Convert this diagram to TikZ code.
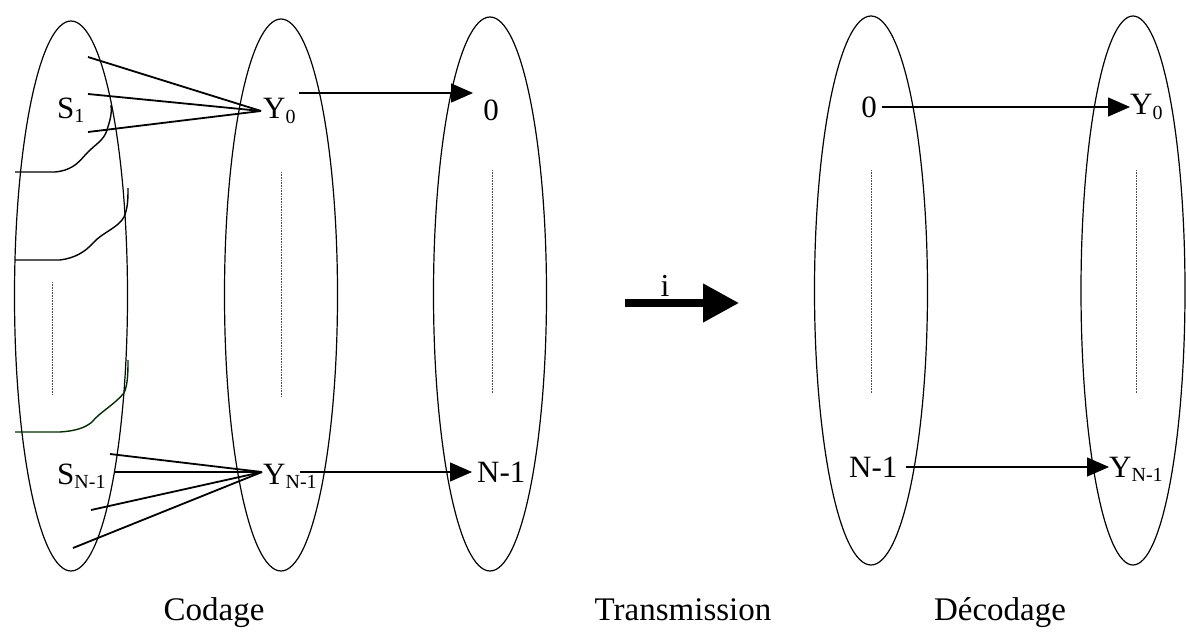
\documentclass[tikz,border=0pt]{standalone}
\usepackage{fontspec}
\setmainfont{Liberation Serif}
\usetikzlibrary{arrows.meta,calc}
\newcommand\lowsub[1]{\raisebox{-0.3ex}{\fontsize{20}{20}\selectfont #1}}
\begin{document}
\begin{tikzpicture}[x=1pt,y=-1pt,
  oval/.style={line width=1.2pt},
  fan/.style={line width=1.8pt},
  wavy/.style={line width=1.4pt},
  dotl/.style={line width=0.8pt,dash pattern=on 0.8pt off 0.8pt,black!70},
  arr/.style={line width=1.4pt,-{Triangle[length=22pt,width=19pt]}},
  lbl/.style={inner sep=0pt,font=\fontsize{31}{31}\selectfont},
  captxt/.style={inner sep=0pt,anchor=base,font=\fontsize{33}{33}\selectfont}]
\useasboundingbox (0,0) rectangle (1186,637);
% ellipses
\draw[oval] (71,296) ellipse [x radius=56.5,y radius=275];
\draw[oval] (281,295) ellipse [x radius=56.5,y radius=276];
\draw[oval] (490,294) ellipse [x radius=56.5,y radius=277];
\draw[oval] (871,290.5) ellipse [x radius=56.5,y radius=274.5];
\draw[oval] (1133,290.5) ellipse [x radius=52,y radius=274.5];
% dotted lines
\draw[dotl] (52,282) -- (52,395);
\draw[dotl] (281,172) -- (281,397);
\draw[dotl] (492,170) -- (492,393);
\draw[dotl] (871,170) -- (871,393);
\draw[dotl] (1136,170) -- (1136,393);
% labels
\node[lbl,anchor=west] (S1) at (57,110) {S\lowsub{1}};
\node[lbl,anchor=west] (Y0) at (263,111) {Y\lowsub{0}};
\node[lbl] (O1) at (491,110) {0};
\node[lbl,anchor=west] (SN) at (57,476) {S\lowsub{N-1}};
\node[lbl,anchor=west] (YN) at (263,476) {Y\lowsub{N-1}};
\node[lbl,anchor=west] (N1) at (477,472) {N-1};
\node[lbl] (O2) at (869,107) {0};
\node[lbl,anchor=west] (Y0r) at (1130,107) {Y\lowsub{0}};
\node[lbl,anchor=west] (N2) at (849,467) {N-1};
\node[lbl,anchor=west] (YNr) at (1109,469) {Y\lowsub{N-1}};
% fan coordinates
\coordinate (f1) at (88,57);
\coordinate (f2) at (88,94);
\coordinate (f3) at (88,132);
\coordinate (g1) at (110,454);
\coordinate (g2) at (115,472);
\coordinate (g3) at (91,510);
\coordinate (g4) at (73,548);
\coordinate (ap0) at ($(Y0.west)+(-2,0)$);
\coordinate (apN) at ($(YN.west)+(-1,-4)$);
\foreach \c in {f1,f2,f3} \draw[fan] (\c) -- (ap0);
\foreach \c in {g1,g2,g3,g4} \draw[fan] (\c) -- (apN);
% curves
\draw[wavy] (15,172) -- (55,172) .. controls (75,170) and (80,160) .. (88,152)
  .. controls (96,144) and (104,140) .. (107,130) .. controls (110,120) and (112,115) .. (111,105);
\draw[wavy] (15,260) -- (60,260) .. controls (75,258) and (85,252) .. (93,243)
  .. controls (103,232) and (118,228) .. (124,217) .. controls (128,208) and (128,198) .. (128,188);
\draw[wavy,black!70!green!60!black] (15,432) -- (60,432) .. controls (75,431) and (85,428) .. (92,422)
  .. controls (100,412) and (114,405) .. (124,393) .. controls (128,385) and (128,370) .. (128,360);
% horizontal arrows
\coordinate (a1) at ($(Y0.east)+(3,-18)$);
\coordinate (e1) at ($(a1 -| O1.west)+(-10,0)$);
\draw[arr] (a1) -- (e1);
\coordinate (a2) at ($(YN.west)+(37,-4)$);
\coordinate (e2) at ($(a2 -| N1.west)+(-5,0)$);
\draw[arr] (a2) -- (e2);
\coordinate (a3) at ($(O2.east)+(5,0)$);
\draw[arr] (a3) -- (a3 -| Y0r.west);
\coordinate (a4) at ($(N2.east)+(8,0)$);
\draw[arr] (a4) -- (a4 -| YNr.west);
% transmission arrow
\coordinate (ta) at (625,303);
\coordinate (tb) at (739,303);
\draw[line width=7.5pt,-{Triangle[length=36pt,width=37pt]}] (ta) -- (tb);
\node[lbl,anchor=base,font=\fontsize{32}{32}\selectfont] (i) at (665,296) {i};
% captions
\node[captxt] (cod) at (214,620) {Codage};
\node[captxt] (tra) at (683,620) {Transmission};
\node[captxt] (dec) at (1000,620) {Décodage};
\end{tikzpicture}
\end{document}
